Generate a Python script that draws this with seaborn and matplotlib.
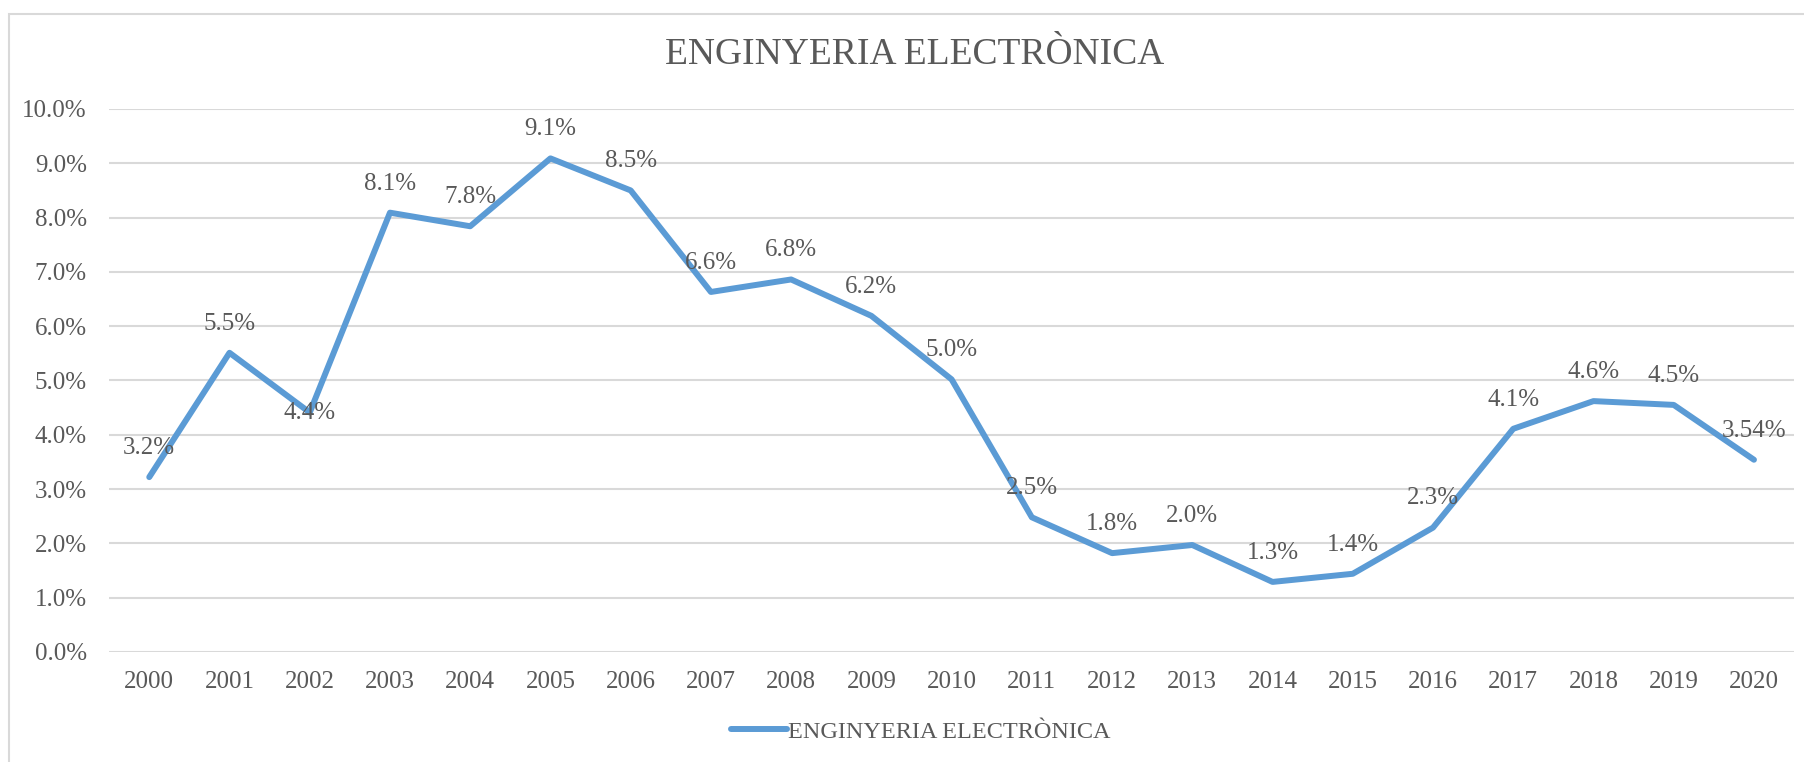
import matplotlib
matplotlib.use("Agg")
import matplotlib.pyplot as plt
import matplotlib.patches as mpatches
import pandas as pd
import seaborn as sns

# data
years = [2000, 2001, 2002, 2003, 2004, 2005, 2006, 2007, 2008, 2009, 2010,
         2011, 2012, 2013, 2014, 2015, 2016, 2017, 2018, 2019, 2020]
values = [3.22, 5.51, 4.41, 8.09, 7.84, 9.09, 8.50, 6.63, 6.86, 6.19, 5.02,
          2.48, 1.82, 1.97, 1.29, 1.44, 2.29, 4.11, 4.62, 4.55, 3.54]
point_labels = ["3.2%", "5.5%", "4.4%", "8.1%", "7.8%", "9.1%", "8.5%", "6.6%",
                "6.8%", "6.2%", "5.0%", "2.5%", "1.8%", "2.0%", "1.3%", "1.4%",
                "2.3%", "4.1%", "4.6%", "4.5%", "3.54%"]
y_ticks = [0, 1, 2, 3, 4, 5, 6, 7, 8, 9, 10]
series_name = "ENGINYERIA ELECTRÒNICA"

df = pd.DataFrame({"year": years, "value": values, "serie": series_name})

sns.set_theme(style="white")
plt.rcParams["font.family"] = ["Liberation Serif", "DejaVu Serif"]
text_col = "#595959"
line_col = "#5B9BD5"
grid_col = "#D9D9D9"

fig = plt.figure(figsize=(18.04, 7.62), dpi=100)
ax = fig.add_axes([0.0605, 0.1444, 0.934, 0.7126])

sns.lineplot(data=df, x="year", y="value", hue="serie", palette=[line_col],
             linewidth=4.3, ax=ax, legend=True)

# data labels (2002 sits on the point, the rest above)
for yr, v, lab in zip(years, values, point_labels):
    dy = 0 if yr == 2002 else 21
    ax.annotate(lab, (yr, v), xytext=(0, dy), textcoords="offset points",
                ha="center", va="center", fontsize=18, color=text_col)

ax.set_xlim(years[0] - 0.5, years[-1] + 0.5)
ax.set_ylim(0, 10)
ax.set_xticks(years)
ax.set_xticklabels([str(y) for y in years])
ax.set_yticks(y_ticks)
ax.set_yticklabels(["{:.1f}%".format(t) for t in y_ticks])
ax.tick_params(axis="both", length=0, labelsize=18, colors=text_col)
ax.tick_params(axis="y", pad=16)
ax.tick_params(axis="x", pad=14)
ax.set_xlabel("")
ax.set_ylabel("")
ax.grid(axis="y", color=grid_col, linewidth=1.5)
ax.set_axisbelow(True)
sns.despine(ax=ax, left=True, bottom=True)

fig.text(0.507, 0.928, series_name, ha="center", va="center",
         fontsize=27, color=text_col)

leg = ax.legend(loc="center", bbox_to_anchor=(0.5105, 0.04), bbox_transform=fig.transFigure,
                frameon=False, fontsize=17.5, handlelength=2.3, handletextpad=0.05)
for t in leg.get_texts():
    t.set_color(text_col)
for h in leg.get_lines():
    h.set_linewidth(4.3)
    h.set_solid_capstyle("round")

# outer chart border (cut off at right and bottom like the reference)
border = mpatches.Rectangle((0.005, -0.2), 1.2, 1.182, transform=fig.transFigure,
                            fill=False, edgecolor=grid_col, linewidth=1.5, clip_on=False)
fig.patches.append(border)

fig.savefig("out.png", dpi=100)
